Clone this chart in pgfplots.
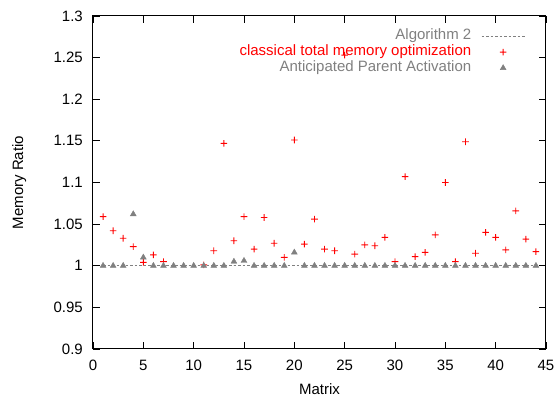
\documentclass[border=0pt]{standalone}
\usepackage{pgfplots}
\pgfplotsset{compat=1.18}
\usepackage{fontspec}
\setmainfont{Liberation Sans}
\definecolor{mygray}{RGB}{128,128,128}
\newcommand{\myfont}{\fontsize{15}{18}\selectfont}
\pgfdeclareplotmark{redplus}{%
  \pgfsetfillcolor{red}%
  \pgfpathrectangle{\pgfqpoint{-\pgfplotmarksize}{-0.45pt}}{\pgfqpoint{2\pgfplotmarksize}{0.9pt}}%
  \pgfpathrectangle{\pgfqpoint{-0.45pt}{-\pgfplotmarksize}}{\pgfqpoint{0.9pt}{2\pgfplotmarksize}}%
  \pgfusepathqfill}
\begin{document}
\myfont
\begin{tikzpicture}
\path[use as bounding box] (-93pt,-49pt) rectangle (464pt,349pt);
\begin{axis}[
  at={(0pt,0pt)}, anchor=south west,
  scale only axis, width=453pt, height=333pt,
  xmin=0, xmax=45, ymin=0.9, ymax=1.3,
  xtick={0,5,10,15,20,25,30,35,40,45},
  xticklabels={0,5,10,15,20,25,30,35,40,45},
  ytick={0.9,0.95,1,1.05,1.1,1.15,1.2,1.25,1.3},
  yticklabels={0.9,0.95,1,1.05,1.1,1.15,1.2,1.25,1.3},
  xtick pos=both, ytick pos=both,
  tick align=inside, major tick length=7pt,
  every tick/.style={black, line width=0.8pt},
  axis line style={black, line width=1pt},
  every tick label/.append style={font=\myfont},
  yticklabel style={inner sep=0pt, anchor=east, xshift=-10pt},
  xticklabel style={inner sep=0pt, anchor=north, yshift=-11pt},
  xlabel={Matrix}, ylabel={Memory Ratio},
  xlabel style={font=\myfont, at={(axis description cs:0.5,-0.1021)}, anchor=north, inner sep=0pt},
  ylabel style={font=\myfont, at={(axis description cs:-0.1788,0.5)}, anchor=north, inner sep=0pt},
  legend style={draw=none, fill=none, at={(1,1)}, anchor=north east, xshift=-21pt, yshift=-12.5pt,
    inner sep=0pt, outer sep=0pt, font=\myfont, row sep=0pt, column sep=10pt,
    nodes={inner sep=0pt, text height=11pt, text depth=4.8pt}},
  legend plot pos=right,
  legend cell align=right,
  legend image code/.code={\draw[mark repeat=2,mark phase=2] plot coordinates {(0pt,0pt) (21.5pt,0pt) (43pt,0pt)};},
]
\addplot[mygray, dash pattern=on 2.5pt off 2pt, line width=0.7pt] coordinates {
(1,1) (2,1) (3,1) (4,1) (5,1) (6,1) (7,1) (8,1) (9,1) (10,1) (11,1) (12,1) (13,1) (14,1) (15,1)
(16,1) (17,1) (18,1) (19,1) (20,1) (21,1) (22,1) (23,1) (24,1) (25,1) (26,1) (27,1) (28,1) (29,1) (30,1)
(31,1) (32,1) (33,1) (34,1) (35,1) (36,1) (37,1) (38,1) (39,1) (40,1) (41,1) (42,1) (43,1) (44,1)};
\addlegendentry{\textcolor{mygray}{Algorithm 2}}
\addplot[red, only marks, mark=redplus, mark size=3.3pt] coordinates {
(1,1.059) (2,1.042) (3,1.033) (4,1.023) (5,1.004) (6,1.013) (7,1.005)
(11,1.001) (12,1.018) (13,1.147) (14,1.030) (15,1.059) (16,1.020) (17,1.058) (18,1.027) (19,1.010) (20,1.151)
(21,1.026) (22,1.056) (23,1.020) (24,1.018) (25,1.253) (26,1.014) (27,1.025) (28,1.024) (29,1.034) (30,1.005)
(31,1.107) (32,1.011) (33,1.016) (34,1.037) (35,1.100) (36,1.005) (37,1.149) (38,1.015) (39,1.040) (40,1.034)
(41,1.019) (42,1.066) (43,1.032) (44,1.017)};
\addlegendentry{\textcolor{red}{classical total memory optimization}}
\addplot[mygray, only marks, mark=triangle*, mark size=3.4pt] coordinates {
(1,1) (2,1) (3,1) (4,1.062) (5,1.010) (6,1) (7,1) (8,1) (9,1) (10,1) (11,1) (12,1) (13,1) (14,1.005) (15,1.006)
(16,1) (17,1) (18,1) (19,1) (20,1.016) (21,1) (22,1) (23,1) (24,1) (25,1) (26,1) (27,1) (28,1) (29,1) (30,1)
(31,1) (32,1) (33,1) (34,1) (35,1) (36,1) (37,1) (38,1) (39,1) (40,1) (41,1) (42,1) (43,1) (44,1)};
\addlegendentry{\textcolor{mygray}{Anticipated Parent Activation}}
\end{axis}
\end{tikzpicture}
\end{document}
